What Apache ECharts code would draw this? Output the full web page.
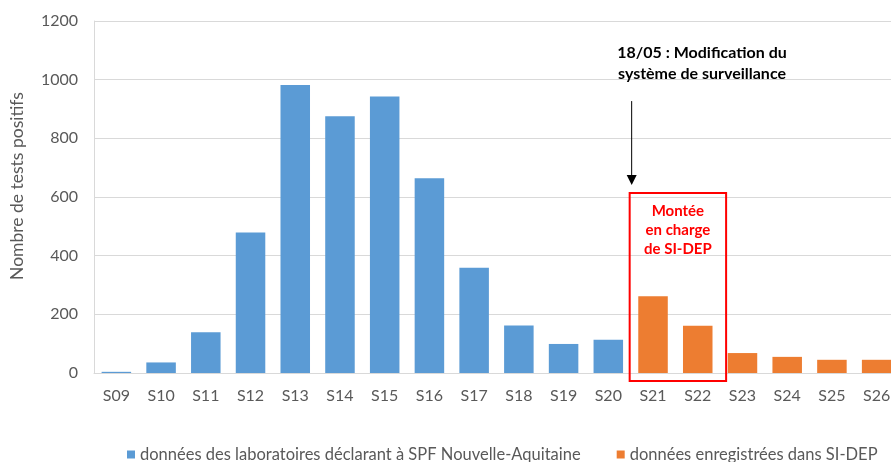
<!DOCTYPE html>
<html>
<head>
<meta charset="utf-8">
<script src="https://cdn.jsdelivr.net/npm/echarts@6/dist/echarts.min.js"></script>
<style>
  html, body { margin: 0; padding: 0; background: #fff; }
  #chart { width: 891px; height: 462px; }
</style>
</head>
<body>
<div id="chart"></div>
<script>
// semaines
const weeks = ['S09', 'S10', 'S11', 'S12', 'S13', 'S14', 'S15', 'S16', 'S17',
  'S18', 'S19', 'S20', 'S21', 'S22', 'S23', 'S24', 'S25', 'S26']
// données des laboratoires (SPF)
const labValues = [4, 36, 139, 479, 982, 875, 943, 664, 359, 162, 99, 113,
  null, null, null, null, null, null]
// données SI-DEP
const sidepValues = [null, null, null, null, null, null, null, null, null,
  null, null, null, 262, 161, 68, 55, 45, 45]
const yTicks = { min: 0, max: 1200, interval: 200 }

const labName = 'données des laboratoires déclarant à SPF Nouvelle-Aquitaine'
const sidepName = 'données enregistrées dans SI-DEP'
const font = 'Lato, "Open Sans", sans-serif'

const chart = echarts.init(document.getElementById('chart'))

chart.setOption({
  animation: false,
  textStyle: { fontFamily: font },
  // la zone de tracé déborde un peu à droite, comme dans l'original
  grid: { left: 94, width: 805, top: 21, height: 352, outerBoundsMode: 'none' },
  legend: {
    top: 441,
    left: 122,
    itemWidth: 8,
    itemHeight: 8,
    itemGap: 36,
    icon: 'rect',
    textStyle: { color: '#595959', fontSize: 16.5, fontFamily: font },
    data: [labName, sidepName]
  },
  xAxis: {
    type: 'category',
    data: weeks,
    axisLine: { lineStyle: { color: '#d9d9d9', width: 1 } },
    axisTick: { show: false },
    axisLabel: { color: '#595959', fontSize: 16, margin: 15 }
  },
  yAxis: {
    type: 'value',
    min: yTicks.min,
    max: yTicks.max,
    interval: yTicks.interval,
    name: 'Nombre de tests positifs',
    nameLocation: 'middle',
    nameGap: 68,
    nameTextStyle: { color: '#595959', fontSize: 17.5, padding: [0, 0, 0, 22] },
    axisLine: { show: true, lineStyle: { color: '#d9d9d9' } },
    axisTick: { show: false },
    axisLabel: { color: '#595959', fontSize: 16, margin: 16, formatter: v => String(v) },
    splitLine: { lineStyle: { color: '#d9d9d9' } }
  },
  series: [
    {
      name: labName,
      type: 'bar',
      stack: 'all',
      barWidth: '66%',
      itemStyle: { color: '#5B9BD5' },
      data: labValues
    },
    {
      name: sidepName,
      type: 'bar',
      stack: 'all',
      barWidth: '66%',
      itemStyle: { color: '#ED7D31' },
      data: sidepValues
    }
  ]
})

// annotations placées depuis les échelles du graphique
const x21 = chart.convertToPixel({ xAxisIndex: 0 }, 'S21')
const x22 = chart.convertToPixel({ xAxisIndex: 0 }, 'S22')
const band = x22 - x21
const boxLeft = x21 - band / 2 - 1
const boxRight = x22 + band / 2 + 6
const boxTop = chart.convertToPixel({ yAxisIndex: 0 }, 614)
const boxBottom = chart.convertToPixel({ yAxisIndex: 0 }, -27)
const arrowX = x21 - band / 2 + 1
const arrowTop = chart.convertToPixel({ yAxisIndex: 0 }, 927)
const arrowTip = chart.convertToPixel({ yAxisIndex: 0 }, 641)

chart.setOption({
  graphic: [
    {
      type: 'rect',
      shape: { x: boxLeft, y: boxTop, width: boxRight - boxLeft, height: boxBottom - boxTop },
      style: { fill: null, stroke: '#ff0000', lineWidth: 2 },
      z: 10
    },
    {
      type: 'text',
      x: (boxLeft + boxRight) / 2,
      y: boxTop + 9,
      style: {
        text: 'Montée\nen charge\nde SI-DEP',
        fill: '#ff0000',
        font: 'bold 15px ' + font,
        align: 'center',
        verticalAlign: 'top',
        lineHeight: 19
      },
      z: 10
    },
    {
      type: 'line',
      shape: { x1: arrowX, y1: arrowTop, x2: arrowX, y2: arrowTip - 9 },
      style: { stroke: '#000', lineWidth: 1 },
      z: 10
    },
    {
      type: 'polygon',
      shape: { points: [[arrowX - 5, arrowTip - 10], [arrowX + 5, arrowTip - 10], [arrowX, arrowTip]] },
      style: { fill: '#000' },
      z: 10
    },
    {
      type: 'text',
      x: 702,
      y: 42,
      style: {
        text: '18/05 : Modification du\nsystème de surveillance',
        fill: '#000',
        font: 'bold 16px ' + font,
        align: 'center',
        verticalAlign: 'top',
        lineHeight: 21
      },
      z: 10
    }
  ]
})
</script>
</body>
</html>
